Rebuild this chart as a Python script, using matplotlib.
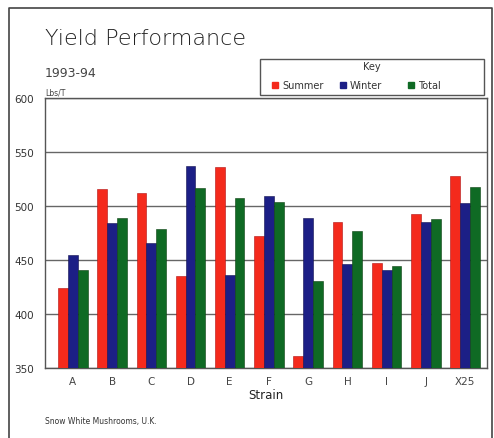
import matplotlib
matplotlib.use("Agg")
import matplotlib.pyplot as plt
import numpy as np

strains = ["A", "B", "C", "D", "E", "F", "G", "H", "I", "J", "X25"]
summer = [424, 516, 512, 435, 536, 472, 361, 485, 447, 493, 528]
winter = [455, 484, 466, 537, 436, 509, 489, 446, 441, 485, 503]
total = [441, 489, 479, 517, 507, 504, 431, 477, 444, 488, 518]
yticks = [350, 400, 450, 500, 550, 600]

red = "#f42a1c"
blue = "#1c1f86"
green = "#0f6a24"
grey = "#555555"

fig = plt.figure(figsize=(4.94, 4.39), dpi=100)
W, H = 494, 439

def fx(px):
    return px / W

def fy(py):
    return 1 - py / H

# outer frame
frame = plt.Line2D([fx(9), fx(9), fx(492), fx(492)], [0, fy(9), fy(9), 0],
                   transform=fig.transFigure, color="#444444", lw=1.2)
fig.add_artist(frame)

ax = fig.add_axes([fx(45), fy(369), fx(487) - fx(45), fy(99) - fy(369)])
x = np.arange(len(strains))
w = 0.25
ax.bar(x - w, summer, w, color=red, edgecolor="#b01010", lw=0.4, zorder=3)
ax.bar(x, winter, w, color=blue, edgecolor="#101050", lw=0.4, zorder=3)
ax.bar(x + w, total, w, color=green, edgecolor="#0a4010", lw=0.4, zorder=3)

ax.set_ylim(350, 600)
ax.set_xlim(-0.71, 10.56)
ax.set_yticks(yticks)
ax.yaxis.grid(True, color="#666666", lw=1.0, zorder=0)
ax.set_xticks(x)
ax.set_xticklabels(strains, fontsize=7.5, color="#444444")
ax.tick_params(axis="y", length=0, labelsize=7.5, labelcolor="#333333", pad=8)
ax.tick_params(axis="x", length=0, pad=6)
for s in ax.spines.values():
    s.set_color(grey)
    s.set_linewidth(1.0)
ax.set_xlabel("Strain", fontsize=8.5, color="#222222", labelpad=1)

fig.text(fx(45), fy(45), "Yield Performance", fontsize=16, color="#222222",
         va="baseline", fontweight="light")
fig.text(fx(45), fy(77), "1993-94", fontsize=9, color="#444444", va="baseline")
fig.text(fx(45), fy(96), "Lbs/T", fontsize=5.5, color="#444444", va="baseline")
fig.text(fx(45), fy(424), "Snow White Mushrooms, U.K.", fontsize=5.5,
         color="#333333", va="baseline")

# key box
key = plt.Rectangle((fx(260), fy(96)), fx(484) - fx(260), fy(60) - fy(96),
                    transform=fig.transFigure, fill=False, ec="#555555", lw=1.0)
fig.add_artist(key)
fig.text(fx(372), fy(70), "Key", fontsize=7, color="#333333", ha="center",
         va="baseline")
for px, col, lab in [(272, red, "Summer"), (340, blue, "Winter"), (408, green, "Total")]:
    fig.add_artist(plt.Rectangle((fx(px), fy(89)), fx(6), fx(6) * W / H,
                                 transform=fig.transFigure, color=col))
    fig.text(fx(px + 10), fy(89), lab, fontsize=7, color="#333333",
             va="baseline")

fig.savefig("out.png", dpi=100)
